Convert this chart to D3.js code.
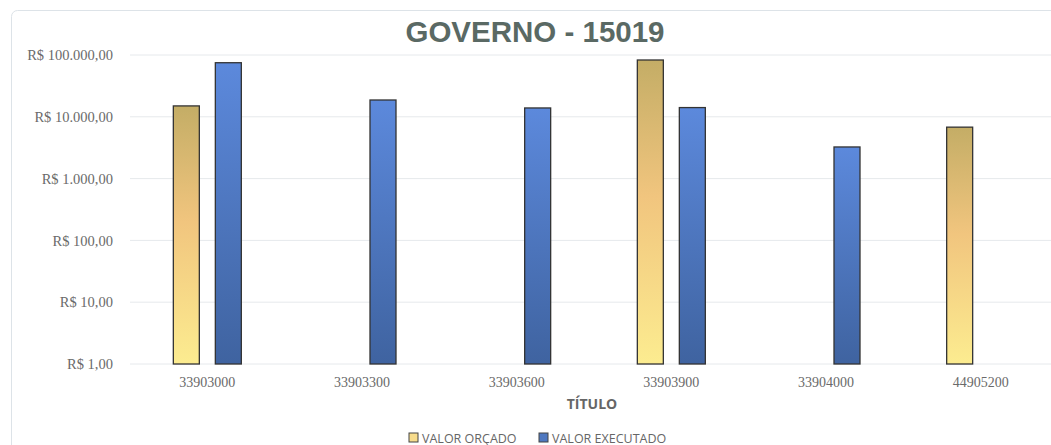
<!DOCTYPE html>
<html>
<head>
<meta charset="utf-8">
<script src="https://cdn.jsdelivr.net/npm/d3@7"></script>
<style>
  body { margin: 0; background: #fff; }
  svg { display: block; }
</style>
</head>
<body>
<div id="chart-area"></div>
<script>
// chart values
const categories = ["33903000", "33903300", "33903600", "33903900", "33904000", "44905200"];
const series = ["VALOR ORÇADO", "VALOR EXECUTADO"];
const valorOrcado = [15000, null, null, 83000, null, 6800];
const valorExecutado = [75000, 18700, 13900, 14100, 3250, null];
const yTicks = [1, 10, 100, 1000, 10000, 100000];

const W = 1051, H = 445;
let margin = {left: 130, right: -7, top: 55, bottom: 81};
let width = W - margin.left - margin.right;
let height = H - margin.top - margin.bottom;

let svg = d3.select("#chart-area")
  .append("svg")
    .attr("width", W)
    .attr("height", H);

// chart frame
svg.append("rect")
  .attr("x", 11.5).attr("y", 10.5)
  .attr("width", W + 20).attr("height", H + 20)
  .attr("rx", 6)
  .attr("fill", "none")
  .attr("stroke", "#dde3e8");

// gradients, one per bar (bounding box)
let defs = svg.append("defs");
let gY = defs.append("linearGradient").attr("id", "gradY")
  .attr("x1", 0).attr("y1", 0).attr("x2", 0).attr("y2", 1);
gY.append("stop").attr("offset", "0%").attr("stop-color", "#c4ad66");
gY.append("stop").attr("offset", "45%").attr("stop-color", "#f1c57e");
gY.append("stop").attr("offset", "100%").attr("stop-color", "#fcec90");
let gB = defs.append("linearGradient").attr("id", "gradB")
  .attr("x1", 0).attr("y1", 0).attr("x2", 0).attr("y2", 1);
gB.append("stop").attr("offset", "0%").attr("stop-color", "#5c89dc");
gB.append("stop").attr("offset", "100%").attr("stop-color", "#3f63a0");

let g = svg.append("g")
  .attr("transform", "translate(" + margin.left + "," + margin.top + ")");

// Title
svg.append("text")
  .attr("x", 535)
  .attr("y", 42)
  .attr("text-anchor", "middle")
  .attr("font-family", "Liberation Sans, Arial, sans-serif")
  .attr("font-weight", "bold")
  .attr("font-size", "29.5px")
  .attr("fill", "#5a6964")
  .text("GOVERNO - 15019");

// scales
let x = d3.scaleBand()
  .domain(categories)
  .range([0, width]);

let y = d3.scaleLog()
  .domain([1, 100000])
  .range([height, 0]);

// grid
g.append("g")
  .selectAll("line")
  .data(yTicks)
  .join("line")
    .attr("x1", 0).attr("x2", width)
    .attr("y1", d => y(d)).attr("y2", d => y(d))
    .attr("stroke", "#e6e9ec");

// Y axis
let yAxis = d3.axisLeft(y)
  .tickValues(yTicks)
  .tickSize(0)
  .tickPadding(17)
  .tickFormat(d => "R$ " + d3.format(",.2f")(d).replace(/,/g, "#").replace(".", ",").replace(/#/g, "."));
let ya = g.append("g").call(yAxis);
ya.select(".domain").remove();
ya.selectAll("text")
  .attr("font-family", "Liberation Serif, Times New Roman, serif")
  .attr("font-size", "14.5px")
  .attr("fill", "#6a6a6a");

// X axis
let xAxis = d3.axisBottom(x).tickSize(0).tickPadding(13);
let xa = g.append("g")
  .attr("transform", "translate(0," + height + ")")
  .call(xAxis);
xa.select(".domain").remove();
xa.selectAll("text")
  .attr("font-family", "Liberation Serif, Times New Roman, serif")
  .attr("font-size", "14px")
  .attr("fill", "#6a6a6a");

// X label
svg.append("text")
  .attr("x", 592)
  .attr("y", 409)
  .attr("text-anchor", "middle")
  .attr("font-family", "Open Sans, Liberation Sans, sans-serif")
  .attr("font-weight", "bold")
  .attr("font-size", "14px")
  .attr("fill", "#666")
  .text("TÍTULO");

// bars
let barW = 26, offset = 21;
let data = [];
categories.forEach((c, i) => {
  if (valorOrcado[i] != null) data.push({cat: c, s: 0, v: valorOrcado[i]});
  if (valorExecutado[i] != null) data.push({cat: c, s: 1, v: valorExecutado[i]});
});

g.selectAll("rect.bar")
  .data(data)
  .join("rect")
    .attr("class", "bar")
    .attr("x", d => x(d.cat) + x.bandwidth() / 2 + (d.s === 0 ? -offset : offset) - barW / 2)
    .attr("y", d => y(d.v))
    .attr("width", barW)
    .attr("height", d => height - y(d.v))
    .attr("fill", d => d.s === 0 ? "url(#gradY)" : "url(#gradB)")
    .attr("stroke", "#333")
    .attr("stroke-width", 1.3);

// Legend
let legendX = [409, 539];
let legend = svg.append("g");
series.forEach((s, i) => {
  let row = legend.append("g")
    .attr("transform", "translate(" + legendX[i] + ",433)");
  row.append("rect")
    .attr("width", 9)
    .attr("height", 9)
    .attr("fill", i === 0 ? "#f7dc8c" : "#4f78c0")
    .attr("stroke", "#444");
  row.append("text")
    .attr("x", 13)
    .attr("y", 9.5)
    .attr("font-family", "Open Sans, Liberation Sans, sans-serif")
    .attr("font-size", "12.5px")
    .attr("fill", "#666")
    .text(s);
});
</script>
</body>
</html>
